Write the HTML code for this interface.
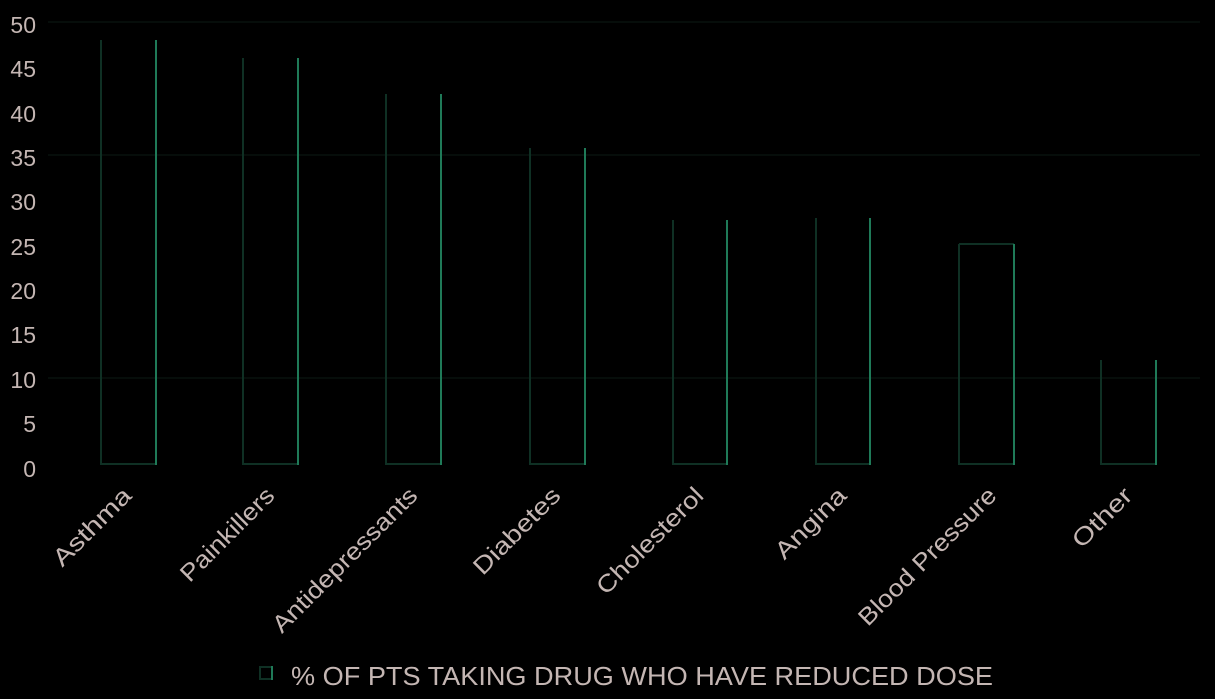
<!DOCTYPE html>
<html><head><style>body{margin:0;background:#000}</style></head><body>
<svg width="1215" height="699" xmlns="http://www.w3.org/2000/svg" style="display:block;background:#000">
<g stroke="#0d1a14" stroke-width="1">
<line x1="48" y1="22" x2="1200" y2="22"/>
<line x1="48" y1="155" x2="1200" y2="155"/>
<line x1="48" y1="378" x2="1200" y2="378"/>
</g>
<g font-family="Liberation Sans, sans-serif" font-size="23" fill="#c4b6b3" text-anchor="end">
<text x="36" y="33">50</text><text x="36" y="77">45</text><text x="36" y="122">40</text>
<text x="36" y="166">35</text><text x="36" y="210">30</text><text x="36" y="255">25</text>
<text x="36" y="299">20</text><text x="36" y="343">15</text><text x="36" y="388">10</text>
<text x="36" y="432">5</text><text x="36" y="477">0</text>
</g>
<g stroke-width="2">
<path d="M101 40V464H156" stroke="#0f3024" fill="none"/><line x1="156" y1="40" x2="156" y2="465" stroke="#1f7a58"/>
<path d="M243 58V464H298" stroke="#0f3024" fill="none"/><line x1="298" y1="58" x2="298" y2="465" stroke="#1f7a58"/>
<path d="M386 94V464H441" stroke="#0f3024" fill="none"/><line x1="441" y1="94" x2="441" y2="465" stroke="#1f7a58"/>
<path d="M530 148V464H585" stroke="#0f3024" fill="none"/><line x1="585" y1="148" x2="585" y2="465" stroke="#1f7a58"/>
<path d="M673 220V464H727" stroke="#0f3024" fill="none"/><line x1="727" y1="220" x2="727" y2="465" stroke="#1f7a58"/>
<path d="M816 218V464H870" stroke="#0f3024" fill="none"/><line x1="870" y1="218" x2="870" y2="465" stroke="#1f7a58"/>
<path d="M959 244V464H1014M959 244H1014" stroke="#0f3024" fill="none"/><line x1="1014" y1="244" x2="1014" y2="465" stroke="#1f7a58"/>
<path d="M1101 360V464H1156" stroke="#0f3024" fill="none"/><line x1="1156" y1="360" x2="1156" y2="465" stroke="#1f7a58"/>
</g>
<g font-family="Liberation Sans, sans-serif" font-size="24" fill="#c4b6b3" text-anchor="end">
<text transform="translate(133,497) rotate(-45)" textLength="100" lengthAdjust="spacingAndGlyphs">Asthma</text>
<text transform="translate(276,497) rotate(-45)" textLength="122" lengthAdjust="spacingAndGlyphs">Painkillers</text>
<text transform="translate(419,497) rotate(-45)" textLength="194" lengthAdjust="spacingAndGlyphs">Antidepressants</text>
<text transform="translate(562,497) rotate(-45)" textLength="112" lengthAdjust="spacingAndGlyphs">Diabetes</text>
<text transform="translate(705,497) rotate(-45)" textLength="140" lengthAdjust="spacingAndGlyphs">Cholesterol</text>
<text transform="translate(848,497) rotate(-45)" textLength="90" lengthAdjust="spacingAndGlyphs">Angina</text>
<text transform="translate(998,497) rotate(-45)" textLength="184" lengthAdjust="spacingAndGlyphs">Blood Pressure</text>
<text transform="translate(1134,497) rotate(-45)" textLength="74" lengthAdjust="spacingAndGlyphs">Other</text>
</g>
<rect x="260" y="667" width="12" height="12" fill="none" stroke="#0f3024" stroke-width="2"/>
<line x1="272" y1="666" x2="272" y2="680" stroke="#1f7a58" stroke-width="2"/>
<text x="291" y="685" font-family="Liberation Sans, sans-serif" font-size="26" fill="#c4b6b3" textLength="702" lengthAdjust="spacingAndGlyphs">% OF PTS TAKING DRUG WHO HAVE REDUCED DOSE</text>
</svg>
</body></html>
